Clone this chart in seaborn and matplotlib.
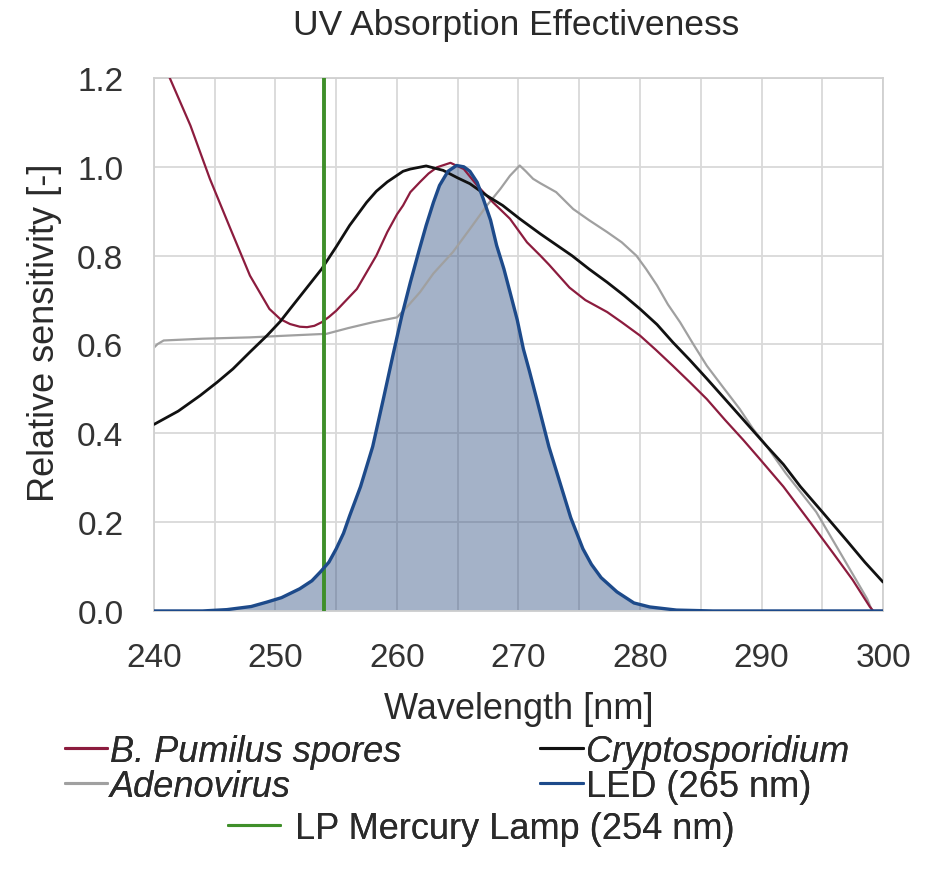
import numpy as np
import matplotlib
matplotlib.use("Agg")
import matplotlib.pyplot as plt
import seaborn as sns
from matplotlib.lines import Line2D
from matplotlib.ticker import MultipleLocator, FormatStrFormatter

# ================================
# Data (wavelength in nm, relative sensitivity)
# ================================
pumilus_x = [240, 241.3, 243.0, 244.6, 246.3, 247.9, 249.5, 250.4, 251.2, 252.0, 252.6,
             253.2, 253.8, 254.4, 255.0, 256.7, 258.3, 259.2, 260.0, 260.5, 261.1, 261.9,
             262.6, 263.3, 264.4, 265.5, 266.6, 267.9, 269.3, 270.7, 271.8, 272.5, 274.2,
             275.5, 277.3, 278.5, 280.0, 281.3, 282.7, 284.1, 285.5, 287.0, 288.5, 289.8,
             291.8, 294.0, 295.9, 297.5, 298.9, 299.2, 300]
pumilus_y = [1.29, 1.20, 1.093, 0.973, 0.86, 0.755, 0.68, 0.657, 0.646, 0.640, 0.639,
             0.642, 0.65, 0.662, 0.676, 0.725, 0.80, 0.853, 0.893, 0.913, 0.943, 0.966,
             0.985, 0.999, 1.009, 0.995, 0.958, 0.92, 0.883, 0.83, 0.80, 0.78, 0.728,
             0.70, 0.673, 0.65, 0.62, 0.588, 0.552, 0.515, 0.477, 0.43, 0.385, 0.344,
             0.28, 0.2, 0.13, 0.07, 0.01, 0.0, 0.0]

crypto_x = [240, 242, 243.8, 245.2, 246.5, 247.9, 249.3, 250.4, 251.2, 252.5, 253.8, 255,
            256.1, 257.5, 258.3, 259.2, 260.5, 261.1, 262.4, 263.8, 265, 266, 267.4, 268.7,
            270.1, 271.8, 274.4, 275.8, 277.3, 278.7, 280, 281.4, 282.7, 284.1, 285.5, 286.9,
            288.2, 290.4, 291.8, 293.2, 295, 297, 298.5, 300]
crypto_y = [0.42, 0.45, 0.485, 0.515, 0.545, 0.583, 0.62, 0.652, 0.68, 0.725, 0.77, 0.82,
            0.868, 0.92, 0.945, 0.966, 0.99, 0.995, 1.002, 0.992, 0.975, 0.962, 0.935, 0.913,
            0.883, 0.849, 0.80, 0.77, 0.74, 0.71, 0.68, 0.645, 0.605, 0.565, 0.523, 0.48,
            0.44, 0.372, 0.33, 0.28, 0.223, 0.159, 0.11, 0.065]

adeno_x = [240, 240.3, 240.8, 244, 247.9, 251, 254.2, 256, 258, 260, 261, 261.9, 263, 264.6,
           266, 267.4, 268.5, 269.3, 270.1, 270.6, 271.2, 271.8, 273.1, 274.5, 275.8, 277.3,
           278.5, 279.7, 280.5, 281.4, 282.3, 283.3, 284.4, 285.5, 286.8, 288.2, 289.3,
           290.4, 292, 294.5, 296.5, 298.7, 299.1, 300]
adeno_y = [0.593, 0.601, 0.609, 0.613, 0.616, 0.62, 0.624, 0.637, 0.65, 0.661, 0.69, 0.718,
           0.76, 0.808, 0.86, 0.913, 0.95, 0.98, 1.003, 0.99, 0.973, 0.963, 0.943, 0.905,
           0.88, 0.853, 0.83, 0.80, 0.77, 0.733, 0.69, 0.65, 0.60, 0.552, 0.505, 0.455, 0.41,
           0.372, 0.31, 0.223, 0.13, 0.027, 0.0, 0.0]

led_x = [240, 244, 246, 248, 249.3, 250.5, 252, 253, 253.7, 254.4, 255, 255.6, 256.1, 257,
         258, 258.9, 259.7, 260.4, 261.1, 261.8, 262.4, 263, 263.5, 264.2, 264.9, 265.5, 266,
         266.6, 267.1, 267.7, 268.2, 268.8, 269.3, 269.9, 270.4, 270.9, 271.5, 272.5, 273.4,
         274.3, 275.3, 276, 276.8, 278.1, 279.5, 280.8, 283, 286, 300]
led_y = [0.0, 0.0, 0.003, 0.01, 0.02, 0.03, 0.05, 0.068, 0.088, 0.11, 0.14, 0.175, 0.214,
         0.28, 0.37, 0.48, 0.58, 0.665, 0.74, 0.81, 0.868, 0.92, 0.958, 0.99, 1.003, 1.0,
         0.99, 0.965, 0.928, 0.88, 0.823, 0.77, 0.718, 0.655, 0.59, 0.54, 0.477, 0.37, 0.29,
         0.21, 0.14, 0.105, 0.075, 0.043, 0.018, 0.009, 0.002, 0.0, 0.0]

mercury_nm = 254

# ================================
# Style
# ================================
sns.set_style("whitegrid", {"grid.color": "#d9d9d9", "axes.edgecolor": "#d0d0d0"})
plt.rcParams['font.family'] = ['Liberation Sans', 'DejaVu Sans']
plt.rcParams['lines.solid_joinstyle'] = 'round'
plt.rcParams['lines.solid_capstyle'] = 'round'

c_red = "#8c1c3e"
c_black = "#111111"
c_gray = "#a0a0a0"
c_blue = "#1d4a8a"
c_green = "#3f8f2a"
c_fill = "#375485"
c_text = "#2a2a2a"

fig = plt.figure(figsize=(9.36, 8.70), dpi=100)
ax = fig.add_axes([0.1645, 0.2966, 0.7789, 0.6126])

ax.fill_between(led_x, 0, led_y, color=c_fill, alpha=0.45, lw=0, zorder=1)
sns.lineplot(x=adeno_x, y=adeno_y, color=c_gray, lw=1.6, ax=ax, zorder=2)
sns.lineplot(x=pumilus_x, y=pumilus_y, color=c_red, lw=1.6, ax=ax, zorder=3)
sns.lineplot(x=crypto_x, y=crypto_y, color=c_black, lw=2.0, ax=ax, zorder=4)
ax.axvline(mercury_nm, color=c_green, lw=2.8, zorder=5)
sns.lineplot(x=led_x, y=led_y, color=c_blue, lw=2.4, ax=ax, zorder=6)

ax.set_xlim(240, 300)
ax.set_ylim(0, 1.2)
ax.xaxis.set_major_locator(MultipleLocator(10))
ax.xaxis.set_minor_locator(MultipleLocator(5))
ax.yaxis.set_major_locator(MultipleLocator(0.2))
ax.yaxis.set_major_formatter(FormatStrFormatter('%.1f'))
ax.grid(True, which='both', axis='x', color='#d9d9d9', lw=1.3)
ax.grid(True, which='major', axis='y', color='#d9d9d9', lw=1.3)
ax.tick_params(axis='both', which='both', length=0, labelsize=24, colors='#333333')
ax.tick_params(axis='x', pad=22)
ax.tick_params(axis='y', pad=22)
for s in ax.spines.values():
    s.set_color('#d0d0d0')
    s.set_linewidth(1.3)

# axis titles and chart title placed in figure coordinates
fig.text(0.5545, 0.184, 'Wavelength [nm]', fontsize=26, color=c_text, ha='center', va='center')
fig.text(0.048, 0.617, 'Relative sensitivity [-]', fontsize=26, color=c_text,
         ha='center', va='center', rotation=90)
fig.text(0.551, 0.971, 'UV Absorption Effectiveness', fontsize=25.5, color=c_text,
         ha='center', va='center')

# ================================
# Legends
# ================================
def make_legend(colors, labels, x, y, italic, **kw):
    h = [Line2D([], [], color=c, lw=2.2) for c in colors]
    lg = fig.legend(h, labels, loc='center left', bbox_to_anchor=(x, y), frameon=False,
                    fontsize=26, borderaxespad=0, borderpad=0, labelspacing=0,
                    labelcolor=c_text, **kw)
    for t, it in zip(lg.get_texts(), italic):
        if it:
            t.set_fontstyle('italic')
    fig.add_artist(lg)
    return lg

make_legend([c_red, c_gray], ['B. Pumilus spores', 'Adenovirus'], 0.0694, 0.1155,
            [True, True], handlelength=1.17, handletextpad=0.08)
make_legend([c_black, c_blue], ['Cryptosporidium', 'LED (265 nm)'], 0.577, 0.1155,
            [True, False], handlelength=1.2, handletextpad=0.08)
make_legend([c_green], ['LP Mercury Lamp (254 nm)'], 0.2436, 0.0471,
            [False], handlelength=1.44, handletextpad=0.42)

fig.savefig('out.png', dpi=100)
